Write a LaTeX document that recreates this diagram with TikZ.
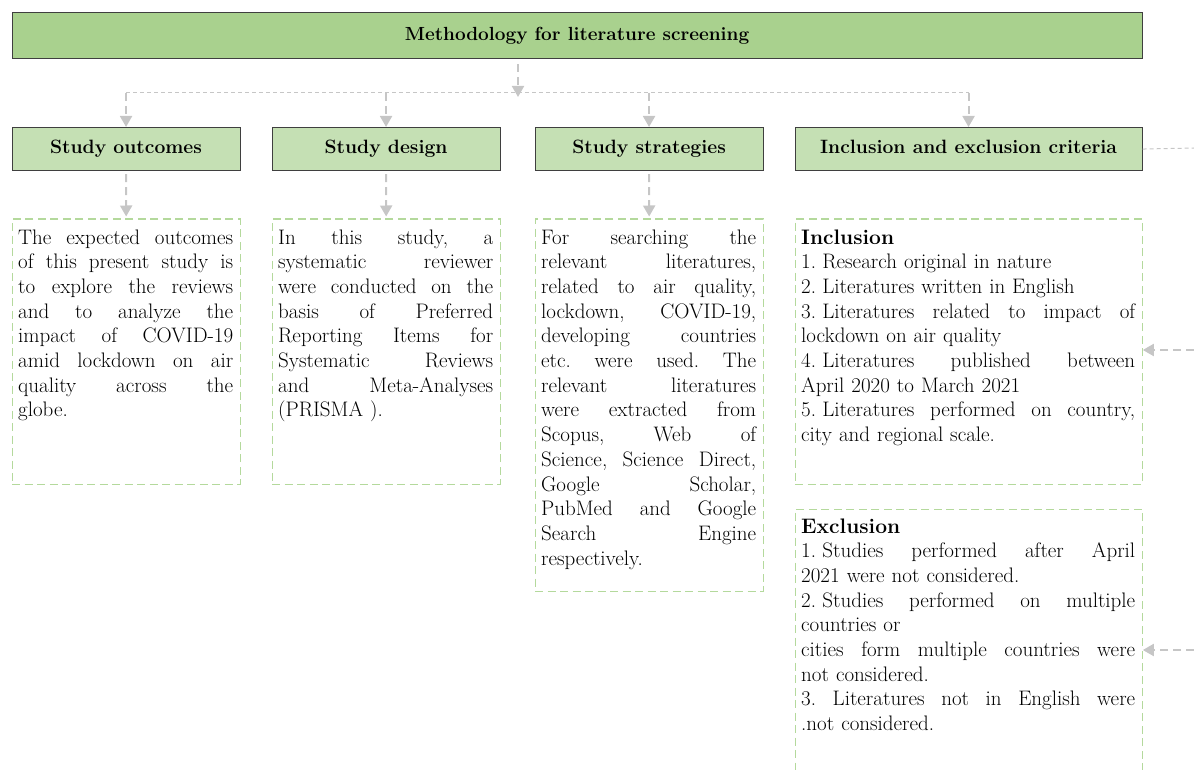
\documentclass[tikz,border=0pt]{standalone}
\usetikzlibrary{arrows.meta}
\definecolor{titlefill}{HTML}{A9D18E}
\definecolor{headfill}{HTML}{C5E0B4}
\definecolor{boxline}{HTML}{3F3F3F}
\definecolor{dashgreen}{HTML}{B4D99C}
\definecolor{conngray}{HTML}{C6C6C6}
\frenchspacing
\newcommand{\jline}[1]{\makebox[\hsize][s]{\spaceskip=0pt\xspaceskip=0pt #1}\\}
\newcommand{\itemno}[1]{#1.\hspace{.3em}}
\begin{document}
\begin{tikzpicture}[x=1pt,y=-1pt,
  titlebox/.style={draw=boxline, fill=titlefill, line width=1.1pt, anchor=north west,
    inner sep=0pt, text height=13.5pt, text depth=4pt,
    font=\bfseries\fontsize{19}{22}\selectfont},
  headbox/.style={draw=boxline, fill=headfill, line width=1.1pt, anchor=north west,
    inner sep=0pt, text height=13.5pt, text depth=4pt,
    font=\bfseries\fontsize{19.3}{22}\selectfont},
  textbox/.style={draw=dashgreen, line width=1.3pt, dash pattern=on 8pt off 4.5pt,
    anchor=north west, inner sep=0pt},
  bodytext/.style={anchor=base west, inner sep=0pt, align=left,
    font=\fontsize{21}{24.7}\selectfont},
  connv/.style={draw=conngray, line width=2pt, dash pattern=on 8pt off 5pt,
    -{Triangle[length=11pt,width=12pt]}},
  connh/.style={draw=conngray, line width=1pt, dash pattern=on 4pt off 3pt}]
\useasboundingbox (0,0) rectangle (1194,770);

% title
\node[titlebox, minimum width=1130, minimum height=46] (title) at (11.5,12)
  {Methodology for literature screening};

% headers
\node[headbox, minimum width=228, minimum height=43] (h1) at (11.5,127) {Study outcomes};
\node[headbox, minimum width=228, minimum height=43] (h2) at (271.5,127) {Study design};
\node[headbox, minimum width=228, minimum height=43] (h3) at (534.5,127) {Study strategies};
\node[headbox, minimum width=347, minimum height=43] (h4) at (794.5,127) {Inclusion and exclusion criteria};

% text boxes
\node[textbox, minimum width=228, minimum height=265] (t1) at (11.5,218.5) {};
\node[textbox, minimum width=228, minimum height=265] (t2) at (271.5,218.5) {};
\node[textbox, minimum width=228, minimum height=372] (t3) at (534.5,218.5) {};
\node[textbox, minimum width=347, minimum height=265] (t4) at (794.5,218.5) {};
\node[textbox, minimum width=347, minimum height=290] (t5) at (794.5,508.5) {};

% texts
\node[bodytext, text width=215] (x1) at (18,244) {%
\jline{The expected outcomes}
\jline{of this present study is}
\jline{to explore the reviews}
\jline{and to analyze the}
\jline{impact of COVID-19}
\jline{amid lockdown on air}
\jline{quality across the}
globe.};

\node[bodytext, text width=215] (x2) at (278,244) {%
\jline{In this study, a}
\jline{systematic reviewer}
\jline{were conducted on the}
\jline{basis of Preferred}
\jline{Reporting Items for}
\jline{Systematic Reviews}
\jline{and Meta-Analyses}
(PRISMA ).};

\node[bodytext, text width=215] (x3) at (541,244) {%
\jline{For searching the}
\jline{relevant literatures,}
\jline{related to air quality,}
\jline{lockdown, COVID-19,}
\jline{developing countries}
\jline{etc. were used. The}
\jline{relevant literatures}
\jline{were extracted from}
\jline{Scopus, Web of}
\jline{Science, Science Direct,}
\jline{Google Scholar,}
\jline{PubMed and Google}
\jline{Search Engine}
respectively.};

\node[bodytext, text width=334] (x4) at (801,244) {%
\textbf{Inclusion}\\
\itemno{1}Research original in nature\\
\itemno{2}Literatures written in English\\
\jline{\itemno{3}Literatures related to impact of}
lockdown on air quality\\
\jline{\itemno{4}Literatures published between}
April 2020 to March 2021\\
\jline{\itemno{5}Literatures performed on country,}
city and regional scale.};

\node[bodytext, text width=334] (x5) at (801,533) {%
\textbf{Exclusion}\\
\jline{\itemno{1}Studies performed after April}
2021 were not considered.\\
\jline{\itemno{2}Studies performed on multiple}
countries or\\
\jline{cities form multiple countries were}
not considered.\\
\jline{3. Literatures not in English were}
.not considered.};

% connectors
\coordinate (jtip) at (518,97);
\coordinate (hl) at (0,93);
\coordinate (r0) at (1194,148);
\coordinate (r1) at (1194,350);
\coordinate (r2) at (1194,650);

\draw[connv, shorten <=5pt] (title.south -| jtip) -- (jtip);
\draw[connh] (h1.north |- hl) -- (h4.north |- hl);
\draw[connv] (h1.north |- hl) -- (h1.north);
\draw[connv] (h2.north |- hl) -- (h2.north);
\draw[connv] (h3.north |- hl) -- (h3.north);
\draw[connv] (h4.north |- hl) -- (h4.north);

\draw[connv, shorten <=3pt, shorten >=2pt] (h1.south) -- (t1.north);
\draw[connv, shorten <=3pt, shorten >=2pt] (h2.south) -- (t2.north);
\draw[connv, shorten <=3pt, shorten >=2pt] (h3.south) -- (t3.north);

\draw[connh] (h4.east) -- (r0);
\draw[connv] (r1) -- (t4.east |- r1);
\draw[connv] (r2) -- (t5.east |- r2);
\end{tikzpicture}
\end{document}
